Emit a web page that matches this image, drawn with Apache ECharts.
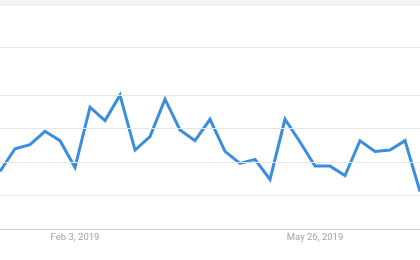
<!DOCTYPE html>
<html>
<head>
<meta charset="utf-8">
<script src="https://cdn.jsdelivr.net/npm/echarts@6/dist/echarts.min.js"></script>
<style>html,body{margin:0;padding:0;background:#fff}#c{width:420px;height:260px}</style>
</head>
<body>
<div id="c"></div>
<script>
var categories = ["Dec 30, 2018","Jan 6, 2019","Jan 13, 2019","Jan 20, 2019","Jan 27, 2019","Feb 3, 2019","Feb 10, 2019","Feb 17, 2019","Feb 24, 2019","Mar 3, 2019","Mar 10, 2019","Mar 17, 2019","Mar 24, 2019","Mar 31, 2019","Apr 7, 2019","Apr 14, 2019","Apr 21, 2019","Apr 28, 2019","May 5, 2019","May 12, 2019","May 19, 2019","May 26, 2019","Jun 2, 2019","Jun 9, 2019","Jun 16, 2019","Jun 23, 2019","Jun 30, 2019","Jul 7, 2019","Jul 14, 2019"];
var values = [43,60,63,73,66,46,91,81,100,59,69,97,74,66,82,58,49,52,37,82,65,47,47,40,66,58,59,66,28];
var tickLabels = ["Feb 3, 2019","May 26, 2019"];
var gridValues = [25,50,75,100,136];

var chart = echarts.init(document.getElementById('c'), null, {renderer:'canvas'});
chart.setOption({
  animation:false,
  backgroundColor:'#ffffff',
  graphic:[{type:'rect',left:0,top:0,shape:{width:420,height:6},style:{fill:'#f3f3f3'},z:-1}],
  grid:{left:0,right:0,top:47,bottom:31,containLabel:false},
  xAxis:{
    type:'category',data:categories,boundaryGap:false,
    axisLine:{show:true,lineStyle:{color:'#cfcfcf',width:1}},
    axisTick:{show:false},
    axisLabel:{
      interval:function(i,v){return tickLabels.indexOf(v)>=0;},
      color:'#a2a2a2',fontFamily:'Roboto',fontSize:9.5,margin:4
    },
    splitLine:{show:false}
  },
  yAxis:{type:'value',min:0,max:136,show:false,splitLine:{show:false}},
  series:[
    {type:'line',data:values,silent:true,showSymbol:false,z:1,
     lineStyle:{opacity:0},
     markLine:{silent:true,symbol:'none',label:{show:false},animation:false,
       lineStyle:{color:'#e6e6e6',width:1,type:'solid'},
       data:gridValues.map(function(v){return {yAxis:v};})}},
    {type:'line',data:values,showSymbol:false,z:3,
     lineStyle:{color:'#3b8ede',width:3,join:'miter'},
     itemStyle:{color:'#3b8ede'}}
  ]
});
</script>
</body>
</html>
